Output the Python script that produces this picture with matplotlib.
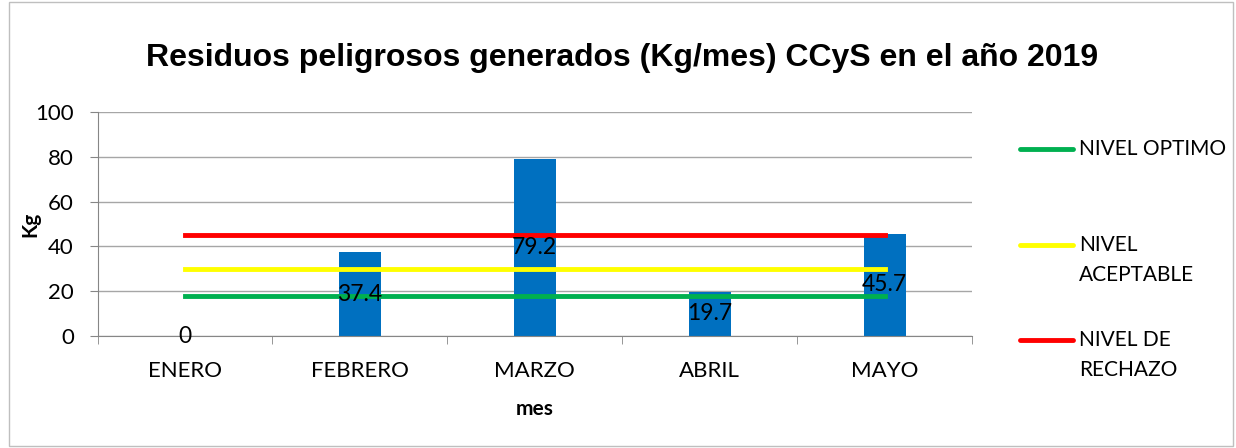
import numpy as np
import matplotlib.pyplot as plt
from matplotlib.lines import Line2D
from matplotlib.patches import Rectangle

# Data
meses = ['ENERO', 'FEBRERO', 'MARZO', 'ABRIL', 'MAYO']
residuos = [0, 37.4, 79.2, 19.7, 45.7]
nivel_optimo = [18, 18, 18, 18, 18]
nivel_aceptable = [30, 30, 30, 30, 30]
nivel_rechazo = [45, 45, 45, 45, 45]

plt.rcParams['font.family'] = ['Lato', 'DejaVu Sans']

fig = plt.figure(figsize=(12.36, 4.48), dpi=100)
ax = fig.add_axes([97.5 / 1236, 1 - 336 / 448, (972 - 97.5) / 1236, (336 - 112) / 448])

x = np.arange(len(meses))
ax.bar(x, residuos, width=0.24, color='#0070C0', zorder=2)
for xi, v in zip(x, residuos):
    ax.text(xi, v / 2, f'{v:g}', ha='center', va='center', fontsize=16.5, color='black', zorder=4)

series = [(nivel_optimo, '#00B050', 'NIVEL OPTIMO'),
          (nivel_aceptable, '#FFFF00', 'NIVEL\nACEPTABLE'),
          (nivel_rechazo, '#FF0000', 'NIVEL DE\nRECHAZO')]
for vals, col, lab in series:
    ax.plot(x, vals, color=col, lw=3.5, zorder=3)

ax.set_xlim(-0.5, 4.5)
ax.set_ylim(0, 100)
ax.set_yticks(range(0, 101, 20))
ax.set_xticks(x)
ax.set_xticklabels(meses)
ax.set_xticks(np.arange(-0.5, 5, 1), minor=True)
ax.tick_params(axis='x', which='major', length=0, labelsize=16, pad=18)
ax.tick_params(axis='x', which='minor', length=6, color='#868686', direction='out')
ax.tick_params(axis='y', length=6, color='#868686', labelsize=16, pad=11)
ax.grid(axis='y', color='#A6A6A6', lw=1, zorder=0)
for s in ['top', 'right']:
    ax.spines[s].set_visible(False)
ax.spines['left'].set_color('#868686')
ax.spines['bottom'].set_color('#868686')

ax.set_xlabel('mes', fontsize=15, fontweight='bold', labelpad=13)
ax.set_ylabel('Kg', fontsize=15, fontweight='bold', labelpad=-4)

fig.text(622.5 / 1236, 1 - 58 / 448, 'Residuos peligrosos generados (Kg/mes) CCyS en el año 2019',
         ha='center', va='center', fontsize=23, fontweight='bold', family='Liberation Sans')

# legend drawn entry by entry, handle aligned with the first text line
leg_y = [149, 245, 340]
for (vals, col, lab), yy in zip(series, leg_y):
    yf = 1 - yy / 448
    fig.add_artist(Line2D([1020 / 1236, 1073 / 1236], [yf, yf], color=col, lw=3.5,
                          transform=fig.transFigure, solid_capstyle='round'))
    fig.text(1079 / 1236, 1 - (yy - 10) / 448, lab, ha='left', va='top', fontsize=15,
             linespacing=1.6)

fig.patches.append(Rectangle((9 / 1236, 0.004), 1 - 12 / 1236, 0.992, transform=fig.transFigure,
                             fill=False, edgecolor='#BFBFBF', lw=1))

plt.savefig('out.png', dpi=100)
